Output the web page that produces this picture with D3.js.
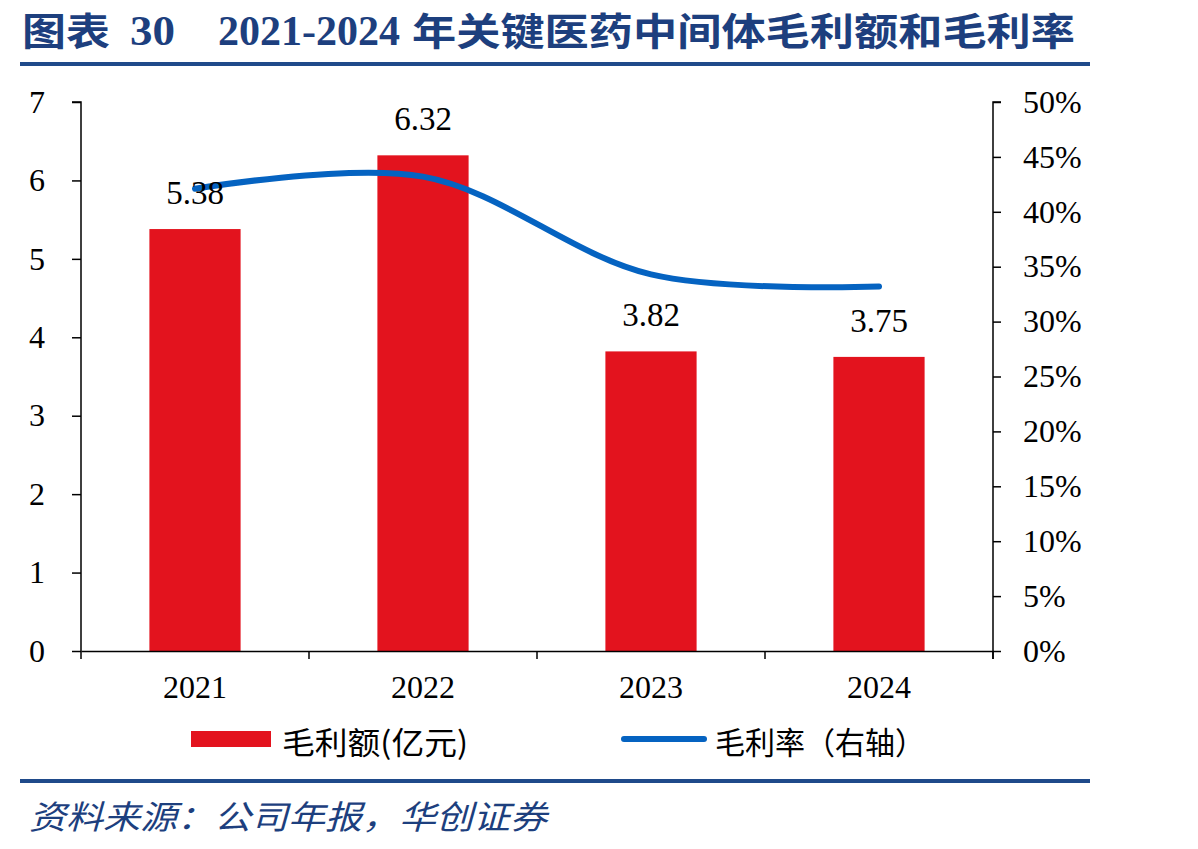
<!DOCTYPE html>
<html><head><meta charset="utf-8">
<script src="https://cdn.jsdelivr.net/npm/d3@7"></script>
<style>body{margin:0;background:#fff}svg{display:block}</style>
</head><body>
<script>
const categories = ["2021","2022","2023","2024"];
const grossProfit = [5.38, 6.32, 3.82, 3.75];
const grossMargin = [0.421, 0.432, 0.343, 0.332];
const leftTicks = [0,1,2,3,4,5,6,7];
const rightTicks = [0,0.05,0.10,0.15,0.20,0.25,0.30,0.35,0.40,0.45,0.50];
const titleParts = ["图表", "30", "2021-2024", "年关键医药中间体毛利额和毛利率"];
const legendLabels = ["毛利额(亿元)", "毛利率（右轴）"];
const sourceText = "资料来源：公司年报，华创证券";

(function(){
const W = 1198, H = 849;
const svg = d3.select("body").append("svg").attr("width", W).attr("height", H);
const serif = "'Liberation Serif','Times New Roman',serif";
const cjk = "'Noto Sans CJK SC','Noto Sans',sans-serif";
const navy = "#1d3f7e";

// title
const tPos = [[22, 88, cjk], [130, 45, serif], [218, 182, serif], [412, 663, cjk]];
titleParts.forEach((t, i) => {
  svg.append("text").attr("x", tPos[i][0]).attr("y", 45)
    .attr("font-family", tPos[i][2]).attr("font-weight", "bold")
    .attr("font-size", tPos[i][2] === cjk ? 38 : 42).attr("fill", navy)
    .attr("textLength", tPos[i][1]).attr("lengthAdjust", "spacingAndGlyphs")
    .text(t);
});
svg.append("line").attr("x1", 20).attr("x2", 1090).attr("y1", 64).attr("y2", 64)
  .attr("stroke", "#1f4a8a").attr("stroke-width", 4);

const pL = 81, pR = 993, pT = 102, pB = 651;
const x = d3.scaleBand().domain(categories).range([pL, pR]).paddingInner(0).paddingOuter(0);
const yL = d3.scaleLinear().domain([0,7]).range([pB, pT]);
const yR = d3.scaleLinear().domain([0,0.5]).range([pB, pT]);

const bw = x.bandwidth()*0.4;
svg.selectAll("rect.bar").data(categories).join("rect")
  .attr("x", d => x(d) + x.bandwidth()/2 - bw/2)
  .attr("y", (d,i) => yL(grossProfit[i]))
  .attr("width", bw)
  .attr("height", (d,i) => pB - yL(grossProfit[i]))
  .attr("fill", "#e3131e");

const axL = svg.append("g").attr("transform", `translate(${pL},0)`)
  .call(d3.axisLeft(yL).tickValues(leftTicks).tickSize(9).tickPadding(27).tickFormat(d3.format("d")));
const axR = svg.append("g").attr("transform", `translate(${pR},0)`)
  .call(d3.axisRight(yR).tickValues(rightTicks).tickSize(8).tickPadding(22).tickFormat(d3.format(".0%")));
const axB = svg.append("g").attr("transform", `translate(0,${pB})`)
  .call(d3.axisBottom(x).tickSize(0).tickPadding(24));
svg.selectAll("line.bt").data(d3.range(categories.length+1)).join("line")
  .attr("x1", i => pL + i*x.bandwidth()).attr("x2", i => pL + i*x.bandwidth())
  .attr("y1", pB).attr("y2", pB+8).attr("stroke", "#000").attr("stroke-width", 1.5);
[axL, axR, axB].forEach(a => {
  a.selectAll("path.domain").attr("stroke", "#000").attr("stroke-width", 1.5);
  a.selectAll(".tick line").attr("stroke", "#000").attr("stroke-width", 1.5);
  a.selectAll("text").attr("font-family", serif).attr("font-size", 32).attr("fill", "#000");
});
axL.select("path.domain").attr("d", `M-9,${pT}H0V${pB}`);
axR.select("path.domain").attr("d", `M8,${pT}H0V${pB+8}`);

const line = d3.line()
  .x((d,i) => x(categories[i]) + x.bandwidth()/2)
  .y(d => yR(d))
  .curve(d3.curveCatmullRom.alpha(0.5));
svg.append("path").datum(grossMargin).attr("d", line)
  .attr("fill", "none").attr("stroke", "#0563c1").attr("stroke-width", 6).attr("stroke-linecap", "round");

svg.selectAll("text.lbl").data(categories).join("text")
  .attr("x", d => x(d) + x.bandwidth()/2)
  .attr("y", (d,i) => yL(grossProfit[i]) - 25)
  .attr("text-anchor", "middle").attr("font-family", serif).attr("font-size", 33)
  .text((d,i) => grossProfit[i].toFixed(2));

svg.append("rect").attr("x", 191).attr("y", 731).attr("width", 80).attr("height", 16).attr("fill", "#e3131e");
svg.append("text").attr("x", 282).attr("y", 754).attr("font-family", cjk).attr("font-size", 31)
  .attr("textLength", 186).attr("lengthAdjust", "spacingAndGlyphs").text(legendLabels[0]);
svg.append("line").attr("x1", 624).attr("x2", 704).attr("y1", 739).attr("y2", 739)
  .attr("stroke", "#0563c1").attr("stroke-width", 6).attr("stroke-linecap", "round");
svg.append("text").attr("x", 715).attr("y", 754).attr("font-family", cjk).attr("font-size", 31)
  .attr("textLength", 210).attr("lengthAdjust", "spacingAndGlyphs").text(legendLabels[1]);

svg.append("line").attr("x1", 20).attr("x2", 1090).attr("y1", 781).attr("y2", 781)
  .attr("stroke", "#1f4a8a").attr("stroke-width", 4);
svg.append("text").attr("x", 29).attr("y", 829)
  .attr("font-family", cjk).attr("font-size", 33).attr("font-style", "italic").attr("fill", navy)
  .attr("textLength", 518).attr("lengthAdjust", "spacingAndGlyphs")
  .text(sourceText);
})();
</script>
</body></html>
